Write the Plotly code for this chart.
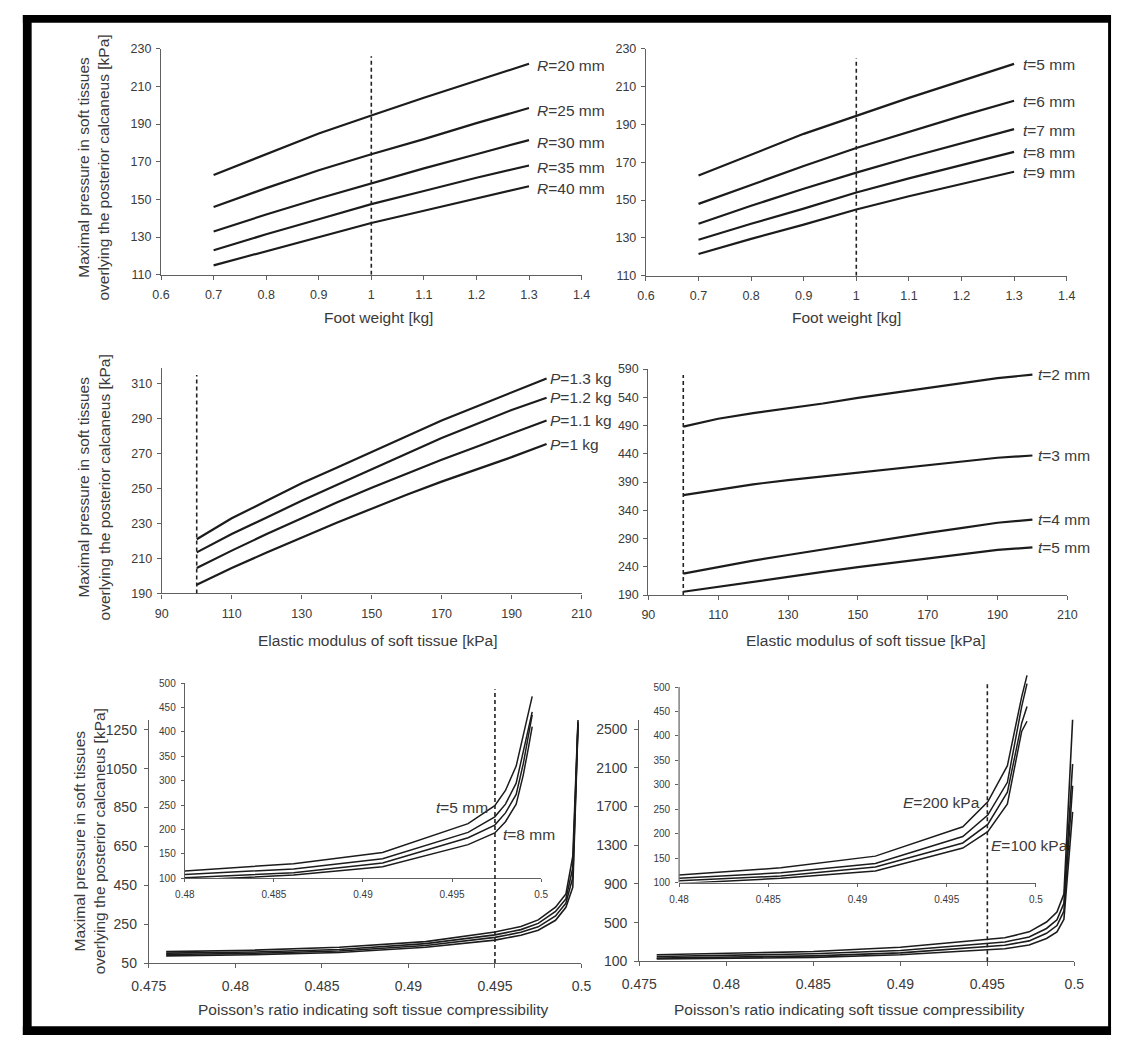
import plotly.graph_objects as go

W, H = 1122, 1043
FONT = "Liberation Sans, Arial, Helvetica, sans-serif"
TXT = "#3a3a3a"
AX = "#606060"
LINE = "#1c1c1c"


def pxx(x):
    return x / W


def pxy(y):
    return 1 - y / H


# ---------------- data ----------------
# top-left: foot weight vs pressure for several calcaneus radii
foot_weight = [0.7, 0.8, 0.9, 1.0, 1.1, 1.2, 1.3]
radius_names = ["20", "25", "30", "35", "40"]
p_R20 = [163, 174, 185, 194.5, 204, 213, 222]
p_R25 = [146, 156, 165.5, 174, 182, 190.5, 198.5]
p_R30 = [133, 142, 150.5, 158.5, 166.5, 174, 181.5]
p_R35 = [123, 131.5, 139.5, 147.5, 154.5, 161.5, 168]
p_R40 = [115, 122.5, 130, 137.5, 144, 150.5, 157]

# top-right: foot weight vs pressure for several tissue thicknesses
thick_names_tr = ["5", "6", "7", "8", "9"]
p_t5 = [163, 174, 185, 194.5, 204, 213, 222]
p_t6 = [148, 158, 168, 177.5, 186, 194.5, 202.5]
p_t7 = [137.5, 147, 156, 164.5, 172.5, 180, 187.5]
p_t8 = [129, 137.5, 145.5, 154, 161.5, 168.5, 175.5]
p_t9 = [121.5, 129.5, 137, 145, 152, 158.5, 165]

# middle-left: elastic modulus vs pressure for several foot weights
elastic = [100, 110, 120, 130, 140, 150, 160, 170, 180, 190, 200]
weight_names = ["1.3", "1.2", "1.1", "1"]
p_P13 = [221, 233, 243, 253, 262, 271, 280, 289, 297, 305, 313]
p_P12 = [213.5, 224, 233.5, 243, 252, 261, 270, 279, 287, 295, 302]
p_P11 = [204.5, 214.5, 224, 233, 242, 250.5, 258.5, 266.5, 274, 281.5, 289]
p_P10 = [195, 204.5, 213.5, 222, 230.5, 238.5, 246.5, 254, 261, 268, 275.5]

# middle-right: elastic modulus vs pressure for several thicknesses
thick_names_mr = ["2", "3", "4", "5"]
p_e_t2 = [488, 502, 512, 520, 529, 539, 548, 557, 566, 574, 580]
p_e_t3 = [367, 377, 386, 393.5, 400, 406.5, 413, 420, 427, 433, 437]
p_e_t4 = [228, 240, 251, 261, 271, 280, 290, 300, 309, 318, 323.5]
p_e_t5 = [196, 205, 214, 222, 231, 239.5, 247, 254, 262, 270, 274.5]

# bottom-left main: Poisson's ratio vs pressure, t = 5..8 mm
nu_bl = [0.476, 0.481, 0.486, 0.491, 0.495, 0.4965, 0.4975, 0.4985, 0.4991, 0.4995, 0.4998]
bl_t5 = [109, 116, 131, 160, 210, 238, 272, 337, 405, 600, 1300]
bl_t6 = [101, 107, 120, 150, 195, 222, 254, 315, 380, 540, 1290]
bl_t7 = [94, 100, 112, 140, 182, 208, 236, 292, 358, 490, 1280]
bl_t8 = [87, 93, 104, 131, 168, 193, 219, 270, 337, 440, 1270]

# bottom-left inset
nu_bl_in = [0.48, 0.4861, 0.4911, 0.4959, 0.4974, 0.4980, 0.4986, 0.4990, 0.4993, 0.4995]
bli_t5 = [115, 130, 153, 212, 249, 280, 330, 395, 445, 473]
bli_t6 = [108, 119, 140, 194, 226, 252, 295, 360, 410, 441]
bli_t7 = [101, 111.5, 131.5, 183, 209, 234, 272, 335, 395, 435]
bli_t8 = [96, 106.5, 123.5, 169, 193, 216, 252, 312, 370, 411]

# bottom-right main: Poisson's ratio vs pressure, E = 200..100 kPa
nu_br = [0.476, 0.4805, 0.485, 0.490, 0.495, 0.496, 0.4974, 0.4984, 0.4990, 0.4994, 0.4999]
br_E1 = [168, 185, 202, 246, 327, 344, 405, 507, 609, 796, 2600]
br_E2 = [151, 164, 178, 212, 287, 300, 352, 440, 530, 700, 2140]
br_E3 = [134, 145, 157, 188, 253, 266, 312, 390, 470, 620, 1915]
br_E4 = [124, 131, 141, 168, 219, 230, 270, 337, 405, 535, 1645]

# bottom-right inset
nu_br_in = [0.48, 0.4857, 0.4910, 0.4959, 0.4973, 0.4984, 0.4992, 0.4995]
bri_E1 = [115.5, 130, 154, 214, 265, 339, 480, 524]
bri_E2 = [108.7, 120, 139, 194, 238, 305, 460, 507]
bri_E3 = [103.4, 113.4, 131.6, 181, 219, 285, 426, 460]
bri_E4 = [98, 108.7, 123.5, 170.6, 204, 261, 409, 430]

# tick labels
fw_ticks = [0.6, 0.7, 0.8, 0.9, 1.0, 1.1, 1.2, 1.3, 1.4]
fw_ticktext = ["0.6", "0.7", "0.8", "0.9", "1", "1.1", "1.2", "1.3", "1.4"]
fw_yticks = [110, 130, 150, 170, 190, 210, 230]
e_ticks = [90, 110, 130, 150, 170, 190, 210]
ml_yticks = [190, 210, 230, 250, 270, 290, 310]
mr_yticks = [190, 240, 290, 340, 390, 440, 490, 540, 590]
nu_ticks = [0.475, 0.48, 0.485, 0.49, 0.495, 0.5]
nu_ticktext = ["0.475", "0.48", "0.485", "0.49", "0.495", "0.5"]
nu_in_ticks = [0.48, 0.485, 0.49, 0.495, 0.5]
nu_in_ticktext = ["0.48", "0.485", "0.49", "0.495", "0.5"]
bl_yticks = [50, 250, 450, 650, 850, 1050, 1250]
br_yticks = [100, 500, 900, 1300, 1700, 2100, 2500]
in_yticks = [100, 150, 200, 250, 300, 350, 400, 450, 500]

ytitle = "Maximal pressure in soft tissues<br>overlying the posterior calcaneus [kPa]"
xtitle_fw = "Foot weight [kg]"
xtitle_e = "Elastic modulus of soft tissue [kPa]"
xtitle_nu = "Poisson\u2019s ratio indicating soft tissue compressibility"

fig = go.Figure()


def add_line(x, y, xa, ya, width):
    fig.add_trace(go.Scatter(x=x, y=y, mode="lines", xaxis=xa, yaxis=ya,
                             line=dict(color=LINE, width=width),
                             showlegend=False, hoverinfo="skip"))


for s in [p_R20, p_R25, p_R30, p_R35, p_R40]:
    add_line(foot_weight, s, "x", "y", 2.2)
for s in [p_t5, p_t6, p_t7, p_t8, p_t9]:
    add_line(foot_weight, s, "x2", "y2", 2.2)
for s in [p_P13, p_P12, p_P11, p_P10]:
    add_line(elastic, s, "x3", "y3", 2.2)
for s in [p_e_t2, p_e_t3, p_e_t4, p_e_t5]:
    add_line(elastic, s, "x4", "y4", 2.2)
for s in [bl_t5, bl_t6, bl_t7, bl_t8]:
    add_line(nu_bl, s, "x5", "y5", 1.6)
for s in [bli_t5, bli_t6, bli_t7, bli_t8]:
    add_line(nu_bl_in, s, "x6", "y6", 1.5)
for s in [br_E1, br_E2, br_E3, br_E4]:
    add_line(nu_br, s, "x7", "y7", 1.6)
for s in [bri_E1, bri_E2, bri_E3, bri_E4]:
    add_line(nu_br_in, s, "x8", "y8", 1.5)


def axis(dom, rng, tickvals, ticktext=None, anchor=None, size=12.5, standoff=2,
         showline=True, ticklen=4):
    d = dict(domain=dom, range=rng, tickmode="array", tickvals=tickvals,
             showgrid=False, zeroline=False, showline=showline, linecolor=AX,
             linewidth=1.2, ticks="outside", ticklen=ticklen, tickcolor=AX,
             tickwidth=1.2, anchor=anchor, ticklabelstandoff=standoff,
             tickfont=dict(size=size, color=TXT, family=FONT))
    if ticktext is not None:
        d["ticktext"] = ticktext
    else:
        d["ticktext"] = [str(v) for v in tickvals]
    return d


# domains from pixel positions
layout_axes = dict(
    xaxis=axis([pxx(146.7), pxx(578)], [0.6, 1.4], fw_ticks, fw_ticktext, "y", standoff=4),
    yaxis=axis([pxy(271.7), pxy(42.3)], [110, 230], fw_yticks, None, "x"),
    xaxis2=axis([pxx(644), pxx(1075.5)], [0.6, 1.4], fw_ticks, fw_ticktext, "y2", standoff=4),
    yaxis2=axis([pxy(272.7), pxy(42.3)], [110, 230], fw_yticks, None, "x2"),
    xaxis3=axis([pxx(147.4), pxx(578)], [90, 210], e_ticks, None, "y3", standoff=4),
    yaxis3=axis([pxy(595), pxy(366.3)], [190, 319], ml_yticks, None, "x3"),
    xaxis4=axis([pxx(646.5), pxx(1076.2)], [90, 210], e_ticks, None, "y4", standoff=4),
    yaxis4=axis([pxy(596.7), pxy(367.3)], [190, 590], mr_yticks, None, "x4"),
    xaxis5=axis([pxx(134.2), pxx(577.9)], [0.475, 0.5], nu_ticks, nu_ticktext, "y5", size=14, standoff=6),
    yaxis5=axis([pxy(970), pxy(723.4)], [50, 1300], bl_yticks, None, "x5", size=14, standoff=4),
    xaxis6=axis([pxx(171.1), pxx(536.5)], [0.48, 0.5], nu_in_ticks, nu_in_ticktext, "y6", size=10, standoff=4, ticklen=3),
    yaxis6=axis([pxy(884), pxy(686)], [100, 500], in_yticks, None, "x6", size=10, standoff=3, ticklen=3),
    xaxis7=axis([pxx(637.2), pxx(1083.4)], [0.475, 0.5], nu_ticks, nu_ticktext, "y7", size=14, standoff=6),
    yaxis7=axis([pxy(968.3), pxy(722.9)], [100, 2600], br_yticks, None, "x7", size=14, standoff=4),
    xaxis8=axis([pxx(678), pxx(1044)], [0.48, 0.5], nu_in_ticks, nu_in_ticktext, "y8", size=10, standoff=4, ticklen=3),
    yaxis8=axis([pxy(888.3), pxy(675.1)], [100, 530], in_yticks, None, "x8", size=10, standoff=3,
                showline=False, ticklen=3),
)

shapes = []
dash = dict(color="#222222", width=1.6, dash="4px,3px")
shapes.append(dict(type="line", xref="x", yref="y", x0=1.0, x1=1.0, y0=110, y1=226, line=dash))
shapes.append(dict(type="line", xref="x2", yref="y2", x0=1.0, x1=1.0, y0=110, y1=225, line=dash))
shapes.append(dict(type="line", xref="x3", yref="y3", x0=100, x1=100, y0=190, y1=315, line=dash))
shapes.append(dict(type="line", xref="x4", yref="y4", x0=100, x1=100, y0=190, y1=579.5, line=dash))
shapes.append(dict(type="line", xref="x5", yref="y5 domain", x0=0.495, x1=0.495, y0=0, y1=1.127, line=dash))
shapes.append(dict(type="line", xref="x7", yref="y7 domain", x0=0.495, x1=0.495, y0=0, y1=1.150, line=dash))
# inset y-axis line of bottom-right inset (curves overshoot the 500 top)
shapes.append(dict(type="line", xref="paper", yref="y8", x0=pxx(678), x1=pxx(678), y0=100, y1=500,
                   line=dict(color=AX, width=1.2)))

# frame
for (x0, y0, x1, y1) in [(5, 8, 1121, 16), (5, 8, 14, 1043), (5, 1034, 1121, 1043), (1118, 8, 1121, 1043)]:
    shapes.append(dict(type="rect", xref="paper", yref="paper", x0=pxx(x0), x1=pxx(x1),
                       y0=pxy(y1), y1=pxy(y0), fillcolor="black", line=dict(width=0), layer="above"))

ann = []
LF = dict(size=15.5, color=TXT, family=FONT)


def lab(text, x, y, xref, yref, xanchor="left", xshift=0, yshift=0):
    ann.append(dict(text=text, x=x, y=y, xref=xref, yref=yref, xanchor=xanchor,
                    yanchor="middle", xshift=xshift, yshift=yshift, showarrow=False, font=LF))


for name, s in zip(radius_names, [p_R20, p_R25, p_R30, p_R35, p_R40]):
    lab("<i>R</i>=%s mm" % name, foot_weight[-1], s[-1], "x", "y", xshift=6, yshift=-2)
for name, s in zip(thick_names_tr, [p_t5, p_t6, p_t7, p_t8, p_t9]):
    lab("<i>t</i>=%s mm" % name, foot_weight[-1], s[-1], "x2", "y2", xshift=7, yshift=-1)
for name, s in zip(weight_names, [p_P13, p_P12, p_P11, p_P10]):
    lab("<i>P</i>=%s kg" % name, elastic[-1], s[-1], "x3", "y3", xshift=1)
for name, s in zip(thick_names_mr, [p_e_t2, p_e_t3, p_e_t4, p_e_t5]):
    lab("<i>t</i>=%s mm" % name, elastic[-1], s[-1], "x4", "y4", xshift=4)

lab("<i>t</i>=5 mm", 0.4974, 246, "x6", "y6", xanchor="right", xshift=-5)
lab("<i>t</i>=8 mm", 0.4974, 189, "x6", "y6", xanchor="left", xshift=6)
lab("<i>E</i>=200 kPa", 0.49726, 263, "x8", "y8", xanchor="right", xshift=-5)
lab("<i>E</i>=100 kPa", 0.49726, 176, "x8", "y8", xanchor="left", xshift=2)

TF = dict(size=15.5, color=TXT, family=FONT)


def title(text, cx, cy, angle=0):
    ann.append(dict(text=text, x=pxx(cx), y=pxy(cy), xref="paper", yref="paper",
                    xanchor="center", yanchor="middle", showarrow=False, font=TF,
                    textangle=angle))


title(xtitle_fw, 369.8, 315)
title(xtitle_fw, 849.4, 315)
title(xtitle_e, 369.4, 642.3)
title(xtitle_e, 869.6, 642.3)
title(xtitle_nu, 364.1, 1017.3)
title(xtitle_nu, 852.6, 1017.3)
title(ytitle, 77.9, 163, -90)
title(ytitle, 77.9, 487.5, -90)
title(ytitle, 73.3, 846, -90)

fig.update_layout(width=W, height=H, margin=dict(l=0, r=0, t=0, b=0, pad=0),
                  paper_bgcolor="white", plot_bgcolor="rgba(0,0,0,0)",
                  font=dict(family=FONT, color=TXT), showlegend=False,
                  shapes=shapes, annotations=ann, **layout_axes)

fig.write_html("out.html", config={"displayModeBar": False},
               post_script="document.body.style.margin='0px';document.body.style.overflow='hidden';")
